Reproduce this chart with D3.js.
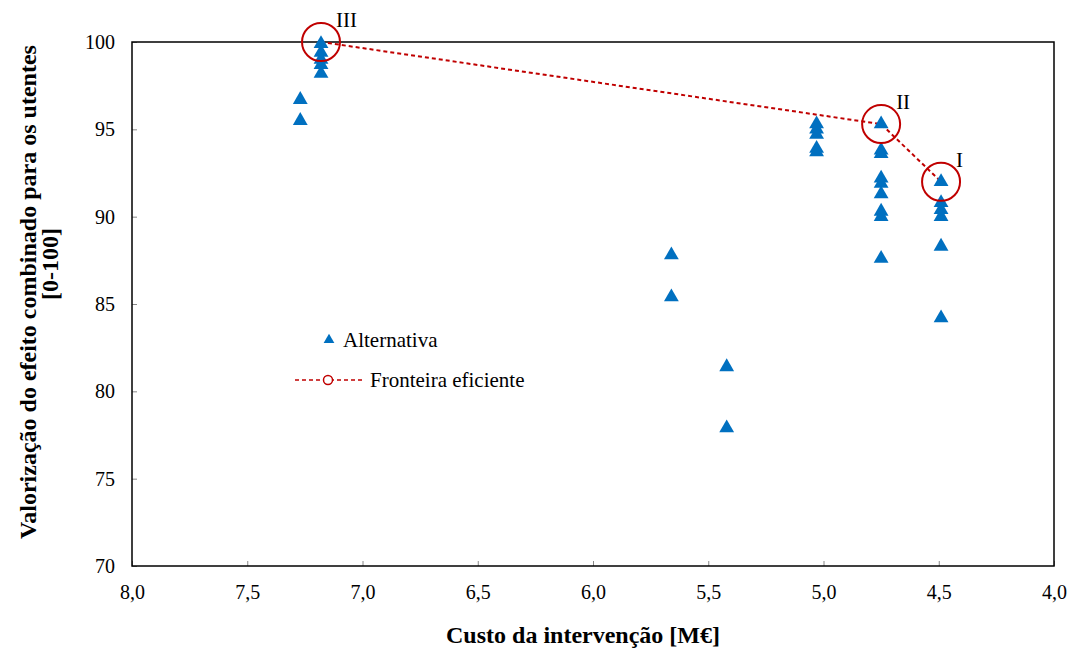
<!DOCTYPE html>
<html>
<head>
  <meta charset="utf-8">
  <title>Fronteira eficiente</title>
  <script src="https://d3js.org/d3.v7.min.js"></script>
  <style>
    body { margin: 0; background: #fff; }
    svg text { font-family: "Times New Roman", "Liberation Serif", "DejaVu Serif", serif !important; }
  </style>
</head>
<body>
  <svg id="grafico"></svg>

  <script>
    const width = 1071;
    const height = 651;

    // Alternativas (custo em M€, valorização 0-100)
    const altCusto = [7.27, 7.27,
      7.18, 7.18, 7.18, 7.18, 7.18,
      5.66, 5.66,
      5.42, 5.42,
      5.03, 5.03, 5.03, 5.03, 5.03,
      4.75, 4.75, 4.75, 4.75, 4.75, 4.75, 4.75, 4.75, 4.75,
      4.49, 4.49, 4.49, 4.49, 4.49, 4.49];
    const altValor = [96.7, 95.5,
      99.9, 99.4, 99.0, 98.7, 98.2,
      87.8, 85.4,
      81.4, 77.9,
      95.3, 95.0, 94.7, 93.9, 93.7,
      95.3, 93.8, 93.6, 92.2, 91.9, 91.3, 90.3, 90.0, 87.6,
      92.0, 90.8, 90.4, 90.0, 88.3, 84.2];

    // Fronteira eficiente
    const frCusto = [7.18, 4.75, 4.49];
    const frValor = [100, 95.3, 92.0];
    const frRotulo = ["III", "II", "I"];

    const xTicks = [8.0, 7.5, 7.0, 6.5, 6.0, 5.5, 5.0, 4.5, 4.0];
    const yTicks = [70, 75, 80, 85, 90, 95, 100];

    const margin = { top: 42, right: 17, bottom: 85, left: 132 };
    const azul = "#0070C0";
    const vermelho = "#C00000";
    const fonte = "'Times New Roman', 'Liberation Serif', serif";

    const svg = d3.select("#grafico")
      .attr("width", width)
      .attr("height", height)
      .attr("font-family", fonte);

    const x = d3.scaleLinear()
      .domain([8, 4])
      .range([margin.left, width - margin.right]);

    const y = d3.scaleLinear()
      .domain([70, 100])
      .range([height - margin.bottom, margin.top]);

    const fmt = d => d3.format(".1f")(d).replace(".", ",");

    // eixos
    const gx = svg.append("g")
      .attr("transform", `translate(0,${height - margin.bottom})`)
      .call(d3.axisBottom(x).tickValues(xTicks).tickFormat(fmt).tickSize(-5).tickPadding(19));

    const gy = svg.append("g")
      .attr("transform", `translate(${margin.left},0)`)
      .call(d3.axisLeft(y).tickValues(yTicks).tickSize(-5).tickPadding(17));

    [gx, gy].forEach(g => {
      g.attr("font-family", fonte).attr("font-size", 20);
      g.select(".domain").remove();
      g.selectAll(".tick line").attr("stroke", "#888");
      g.selectAll("text").attr("fill", "#000");
    });

    // moldura
    svg.append("rect")
      .attr("x", margin.left)
      .attr("y", margin.top)
      .attr("width", width - margin.left - margin.right)
      .attr("height", height - margin.top - margin.bottom)
      .attr("fill", "none")
      .attr("stroke", "#000")
      .attr("stroke-width", 1.5);

    // linha da fronteira
    const linha = d3.line()
      .x((_, i) => x(frCusto[i]))
      .y((_, i) => y(frValor[i]));

    svg.append("path")
      .datum(frCusto)
      .attr("d", linha)
      .attr("fill", "none")
      .attr("stroke", vermelho)
      .attr("stroke-width", 2)
      .attr("stroke-dasharray", "4,3");

    // alternativas
    const tri = d3.symbol().type(d3.symbolTriangle).size(95);

    svg.append("g")
      .selectAll("path")
      .data(altCusto)
      .enter().append("path")
      .attr("d", tri)
      .attr("transform", (d, i) => `translate(${x(d)},${y(altValor[i])})`)
      .attr("fill", azul);

    // círculos da fronteira
    svg.append("g")
      .selectAll("circle")
      .data(frCusto)
      .enter().append("circle")
      .attr("cx", d => x(d))
      .attr("cy", (_, i) => y(frValor[i]))
      .attr("r", 19)
      .attr("fill", "none")
      .attr("stroke", vermelho)
      .attr("stroke-width", 2);

    svg.append("g")
      .selectAll("text")
      .data(frRotulo)
      .enter().append("text")
      .attr("x", (_, i) => x(frCusto[i]) + 15)
      .attr("y", (_, i) => y(frValor[i]) - 15)
      .attr("font-size", 21)
      .text(d => d);

    // legenda
    const leg = svg.append("g");
    leg.append("path")
      .attr("d", d3.symbol().type(d3.symbolTriangle).size(50))
      .attr("transform", "translate(329,340)")
      .attr("fill", azul);
    leg.append("text")
      .attr("x", 343).attr("y", 347)
      .attr("font-size", 21)
      .text("Alternativa");

    leg.append("line")
      .attr("x1", 295).attr("x2", 362)
      .attr("y1", 380).attr("y2", 380)
      .attr("stroke", vermelho)
      .attr("stroke-width", 1.5)
      .attr("stroke-dasharray", "4,3");
    leg.append("circle")
      .attr("cx", 328).attr("cy", 380).attr("r", 4.5)
      .attr("fill", "#fff")
      .attr("stroke", vermelho)
      .attr("stroke-width", 1.5);
    leg.append("text")
      .attr("x", 370).attr("y", 387)
      .attr("font-size", 21)
      .text("Fronteira eficiente");

    // títulos dos eixos
    svg.append("text")
      .attr("x", 583)
      .attr("y", 643)
      .attr("text-anchor", "middle")
      .attr("font-size", 24)
      .attr("font-weight", "bold")
      .text("Custo da intervenção [M€]");

    svg.append("text")
      .attr("transform", "translate(36,292) rotate(-90)")
      .attr("text-anchor", "middle")
      .attr("font-size", 24)
      .attr("font-weight", "bold")
      .text("Valorização do efeito combinado para os utentes");

    svg.append("text")
      .attr("transform", "translate(58,264) rotate(-90)")
      .attr("text-anchor", "middle")
      .attr("font-size", 24)
      .attr("font-weight", "bold")
      .text("[0-100]");
  </script>
</body>
</html>
